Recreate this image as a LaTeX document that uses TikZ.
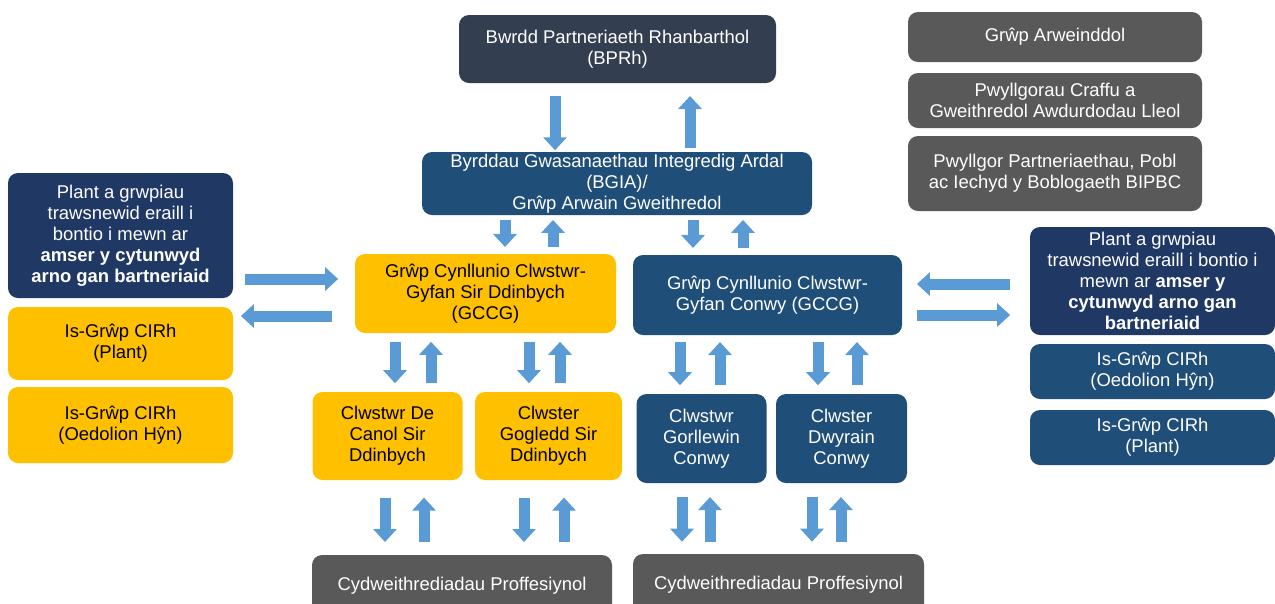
\documentclass[tikz,border=0pt]{standalone}
\usepackage{fontspec}
\setmainfont{Liberation Sans}
\usetikzlibrary{arrows.meta}
\definecolor{slatecol}{HTML}{333F50}
\definecolor{bluecol}{HTML}{1F4E79}
\definecolor{navycol}{HTML}{203864}
\definecolor{yellowcol}{HTML}{FFC000}
\definecolor{greycol}{HTML}{595959}
\definecolor{arrowcol}{HTML}{5B9BD5}

\begin{document}
\begin{tikzpicture}[x=0.02cm, y=0.02cm,
    box/.style={rounded corners=0.2cm, align=center, text=white, font=\fontsize{10.5}{12}\selectfont},
    sz/.style 2 args={minimum width=#1*0.02cm, minimum height=#2*0.02cm},
    yellowbox/.style={box, fill=yellowcol, text=black},
    bluebox/.style={box, fill=bluecol},
    navybox/.style={box, fill=navycol},
    greybox/.style={box, fill=greycol},
    barrow/.style={draw=arrowcol, line width=0.22cm, -{Triangle[width=0.46cm,length=0.26cm]}}]
        \tikzstyle{every node}+=[inner sep=0pt, outer sep=0pt]
        \useasboundingbox (0,0) rectangle (1275,-603);
        \node [box, fill=slatecol, sz={317}{68}] (bprh) at (617.5,-49) {Bwrdd Partneriaeth Rhanbarthol\\(BPRh)};
        \node [bluebox, sz={390}{63}] (bgia) at (617,-183.5) {Byrddau Gwasanaethau Integredig Ardal\\(BGIA)/\\Grŵp Arwain Gweithredol};
        \node [greybox, sz={294}{50}] (arw) at (1055,-37) {Grŵp Arweinddol};
        \node [greybox, sz={294}{55}] (craffu) at (1055,-100.5) {Pwyllgorau Craffu a\\Gweithredol Awdurdodau Lleol};
        \node [greybox, sz={294}{75}] (pobl) at (1055,-173.5) {Pwyllgor Partneriaethau, Pobl\\ac Iechyd y Boblogaeth BIPBC};
        \node [navybox, sz={225}{125}] (plantL) at (120.5,-235.5) {Plant a grwpiau\\trawsnewid eraill i\\bontio i mewn ar\\\textbf{amser y cytunwyd}\\\textbf{arno gan bartneriaid}};
        \node [yellowbox, sz={225}{73}] (isplantL) at (120.5,-343.5) {Is-Grŵp CIRh\\(Plant)};
        \node [yellowbox, sz={225}{76}] (isoedL) at (120.5,-425) {Is-Grŵp CIRh\\(Oedolion Hŷn)};
        \node [yellowbox, sz={261}{79}] (gccgD) at (485.5,-293.5) {Grŵp Cynllunio Clwstwr-\\Gyfan Sir Ddinbych\\(GCCG)};
        \node [bluebox, sz={269}{80}] (gccgC) at (767.5,-295) {Grŵp Cynllunio Clwstwr-\\Gyfan Conwy (GCCG)};
        \node [navybox, sz={245}{108}] (plantR) at (1152.5,-281) {Plant a grwpiau\\trawsnewid eraill i bontio i\\mewn ar \textbf{amser y}\\\textbf{cytunwyd arno gan}\\\textbf{bartneriaid}};
        \node [bluebox, sz={245}{55}] (isoedR) at (1152.5,-371.5) {Is-Grŵp CIRh\\(Oedolion Hŷn)};
        \node [bluebox, sz={245}{55}] (isplantR) at (1152.5,-437.5) {Is-Grŵp CIRh\\(Plant)};
        \node [yellowbox, sz={150}{88}] (decanol) at (387.5,-436) {Clwstwr De\\Canol Sir\\Ddinbych};
        \node [yellowbox, sz={147}{88}] (gogledd) at (548.5,-436) {Clwster\\Gogledd Sir\\Ddinbych};
        \node [bluebox, sz={130}{89}] (gorllewin) at (701.5,-438.5) {Clwstwr\\Gorllewin\\Conwy};
        \node [bluebox, sz={131}{89}] (dwyrain) at (841.5,-438.5) {Clwster\\Dwyrain\\Conwy};
        \node [greybox, sz={300}{70}, text depth=0pt] (proffD) at (462,-590) {\raisebox{1.2ex}{Cydweithrediadau Proffesiynol}};
        \node [greybox, sz={291}{70}, text depth=0pt] (proffC) at (778.5,-589) {\raisebox{1.2ex}{Cydweithrediadau Proffesiynol}};
        \draw [barrow, shorten <=7.4pt, shorten >=1pt] (bprh.south -| 555,0) -- (bgia.north -| 555,0);
        \draw [barrow, shorten <=2pt, shorten >=7.4pt] (bgia.north -| 690,0) -- (bprh.south -| 690,0);
        \draw [barrow, shorten <=2.8pt, shorten >=4pt] (bgia.south -| 505,0) -- (gccgD.north -| 505,0);
        \draw [barrow, shorten <=4pt, shorten >=2.8pt] (gccgD.north -| 553,0) -- (bgia.south -| 553,0);
        \draw [barrow, shorten <=2.8pt, shorten >=4pt] (bgia.south -| 693,0) -- (gccgC.north -| 693,0);
        \draw [barrow, shorten <=4pt, shorten >=2.8pt] (gccgC.north -| 743,0) -- (bgia.south -| 743,0);
        \draw [barrow, shorten <=6.8pt, shorten >=9.6pt] (plantL.east |- 0,-279) -- (gccgD.west |- 0,-279);
        \draw [barrow, shorten <=13pt, shorten >=4.5pt] (gccgD.west |- 0,-316) -- (isplantL.east |- 0,-316);
        \draw [barrow, shorten <=11.3pt, shorten >=8.5pt] (plantR.west |- 0,-284) -- (gccgC.east |- 0,-284);
        \draw [barrow, shorten <=8.5pt, shorten >=11.3pt] (gccgC.east |- 0,-315) -- (plantR.west |- 0,-315);
        \draw [barrow, shorten <=5pt, shorten >=5pt] (gccgD.south -| 395,0) -- (decanol.north -| 395,0);
        \draw [barrow, shorten <=5pt, shorten >=5pt] (decanol.north -| 431,0) -- (gccgD.south -| 431,0);
        \draw [barrow, shorten <=5pt, shorten >=5pt] (gccgD.south -| 529,0) -- (gogledd.north -| 529,0);
        \draw [barrow, shorten <=5pt, shorten >=5pt] (gogledd.north -| 560,0) -- (gccgD.south -| 560,0);
        \draw [barrow, shorten <=4pt, shorten >=5pt] (gccgC.south -| 680,0) -- (gorllewin.north -| 680,0);
        \draw [barrow, shorten <=5pt, shorten >=4pt] (gorllewin.north -| 720,0) -- (gccgC.south -| 720,0);
        \draw [barrow, shorten <=4pt, shorten >=5pt] (gccgC.south -| 818,0) -- (dwyrain.north -| 818,0);
        \draw [barrow, shorten <=5pt, shorten >=4pt] (dwyrain.north -| 857,0) -- (gccgC.south -| 857,0);
        \draw [barrow, shorten <=10pt, shorten >=7.4pt] (decanol.south -| 385,0) -- (proffD.north -| 385,0);
        \draw [barrow, shorten <=7.4pt, shorten >=10pt] (proffD.north -| 424,0) -- (decanol.south -| 424,0);
        \draw [barrow, shorten <=10pt, shorten >=7.4pt] (gogledd.south -| 524,0) -- (proffD.north -| 524,0);
        \draw [barrow, shorten <=7.4pt, shorten >=10pt] (proffD.north -| 564,0) -- (gogledd.south -| 564,0);
        \draw [barrow, shorten <=8pt, shorten >=7pt] (gorllewin.south -| 682,0) -- (proffC.north -| 682,0);
        \draw [barrow, shorten <=7pt, shorten >=8pt] (proffC.north -| 710,0) -- (gorllewin.south -| 710,0);
        \draw [barrow, shorten <=8pt, shorten >=7pt] (dwyrain.south -| 812,0) -- (proffC.north -| 812,0);
        \draw [barrow, shorten <=7pt, shorten >=8pt] (proffC.north -| 841,0) -- (dwyrain.south -| 841,0);
\end{tikzpicture}
\end{document}
